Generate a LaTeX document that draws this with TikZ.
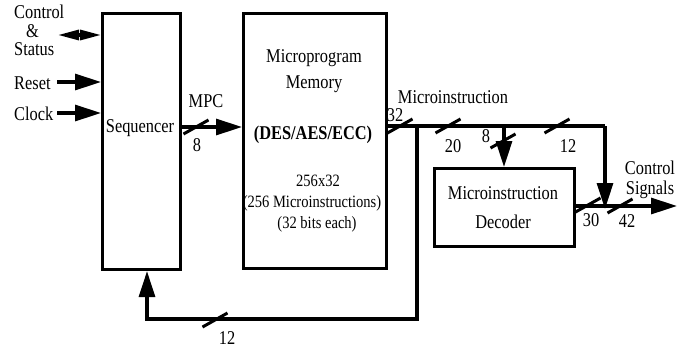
\documentclass[tikz,border=0pt]{standalone}
\usepackage{fontspec}
\setmainfont{Liberation Serif}[FakeStretch=0.84]
\usetikzlibrary{arrows.meta}
\begin{document}
\begin{tikzpicture}[x=1pt,y=-1pt,
  box/.style={draw,line width=3.1pt,inner sep=0pt,anchor=north west},
  wire/.style={line width=3.1pt},
  bigtip/.style={-{Triangle[length=26pt,width=16pt]}},
  lbl/.style={font=\fontsize{19.5}{18.5}\selectfont,inner sep=0pt},
  sml/.style={font=\fontsize{17.3}{18}\selectfont,inner sep=0pt},
  busslash/.pic={\draw[line width=3pt] (-12.5,7) -- (12.5,-7);}]
\useasboundingbox (0,0) rectangle (687,349);
% boxes
\node[box,minimum width=78pt,minimum height=256pt] (seq) at (101,12) {};
\node[box,minimum width=143pt,minimum height=255pt] (mem) at (242,12) {};
\node[box,minimum width=140pt,minimum height=78pt] (dec) at (433,167) {};
% box texts
\node[lbl] (seqt) at (140,128) {Sequencer};
\node[lbl] (memt1) at (314,58) {Microprogram};
\node[lbl] (memt2) at (314,84) {Memory};
\node[lbl,font=\fontsize{19.5}{18.5}\selectfont\bfseries] (memt3) at (313,135) {(DES/AES/ECC)};
\node[sml] (memt4) at (318,181) {256x32};
\node[sml] (memt5) at (312,203) {(256 Microinstructions)};
\node[sml] (memt6) at (317,224) {(32 bits each)};
\node[lbl] (dect1) at (503,193) {Microinstruction};
\node[lbl] (dect2) at (503,222) {Decoder};
% inputs
\node[lbl,anchor=north west,align=left] (cs) at (14,5) {Control\\\hspace{12pt}\&\\Status};
\node[lbl,anchor=west] (rst) at (14,83) {Reset};
\node[lbl,anchor=west] (clk) at (14,114) {Clock};
\coordinate (csY) at (0,35);
\coordinate (rY) at (0,82);
\coordinate (cY) at (0,113);
\draw[wire,{Triangle[length=21pt,width=10pt]}-{Triangle[length=21pt,width=10pt]}] (58,35) coordinate (csL) -- (seq.west |- csY);
\draw[wire,bigtip] (57,82) coordinate (rL) -- (seq.west |- rY);
\draw[wire,bigtip] (57,113) coordinate (cL) -- (seq.west |- cY);
% MPC
\coordinate (mpcY) at (0,127);
\draw[wire,bigtip] (seq.east |- mpcY) -- (mem.west |- mpcY);
\pic at (196,127) {busslash};
\node[lbl] (mpc) at (206,101) {MPC};
\node[lbl] (n8a) at (197,145) {8};
% microinstruction bus
\coordinate (busY) at (0,126);
\coordinate (j1) at (417,126);
\coordinate (j2) at (504,126);
\coordinate (j3) at (605,126);
\draw[wire] (mem.east |- busY) -- (j3);
\node[lbl] (mi) at (453,97) {Microinstruction};
\pic at (400,126) {busslash};
\node[lbl] (n32) at (395,115) {32};
\pic at (448,126) {busslash};
\node[lbl] (n20) at (453,146) {20};
\pic at (557,126) {busslash};
\node[lbl] (n12a) at (568,146) {12};
% 8 to decoder
\draw[wire,bigtip] (j2) -- (dec.north -| j2);
\pic at (503,141) {busslash};
\node[lbl] (n8b) at (486,136) {8};
% output
\coordinate (outY) at (0,206);
\coordinate (m1) at (605,206);
\coordinate (out) at (677,206);
\draw[wire] (dec.east |- outY) -- (m1);
\draw[wire,bigtip] (m1) -- (out);
\draw[wire,bigtip] (j3) -- ([yshift=-3pt]m1);
\pic at (588,205) {busslash};
\node[lbl] (n30) at (591,220) {30};
\pic at (620,206) {busslash};
\node[lbl] (n42) at (627,221) {42};
\node[lbl,align=center,font=\fontsize{19.5}{20}\selectfont] (cso) at (650,180) {Control\\Signals};
% feedback
\coordinate (fb1) at (417,319);
\coordinate (fb2) at (147,319);
\draw[wire,bigtip] (j1) -- (fb1) -- (fb2) -- (seq.south -| fb2);
\pic at (215,320) {busslash};
\node[lbl] (n12b) at (227,338) {12};
\end{tikzpicture}
\end{document}
